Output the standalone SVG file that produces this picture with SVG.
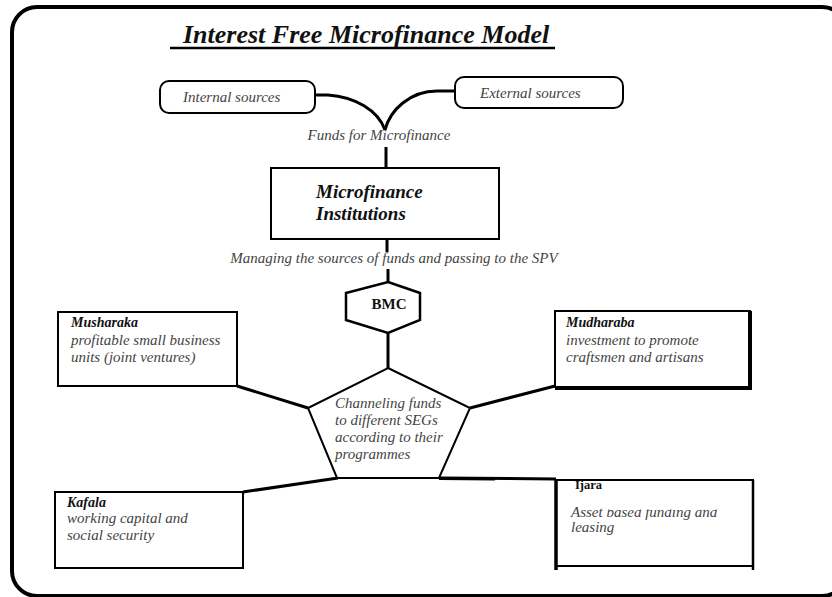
<svg xmlns="http://www.w3.org/2000/svg" width="832" height="597" viewBox="0 0 832 597">
<style>
.box{fill:#fff;stroke:#000;stroke-width:2}
.conn{fill:none;stroke:#000;stroke-width:3}
.it{font-family:"Liberation Serif","Times New Roman",serif;font-style:italic;font-size:15px;fill:#444}
.bi{font-family:"Liberation Serif","Times New Roman",serif;font-style:italic;font-weight:bold;fill:#111}
.b{font-family:"Liberation Serif","Times New Roman",serif;font-weight:bold;fill:#111}
</style>
<defs>
<clipPath id="ijclip">
<rect x="560" y="495" width="44" height="30"/>
<rect x="604" y="509.5" width="140" height="16"/>
</clipPath>
</defs>
<rect x="0" y="0" width="832" height="597" fill="#fff"/>
<rect x="12" y="7" width="835" height="589" rx="25" fill="none" stroke="#000" stroke-width="4"/>
<g id="title">
<text x="183" y="43" class="bi" font-size="26">Interest Free Microfinance Model</text>
<line x1="170" y1="48" x2="555" y2="48" stroke="#000" stroke-width="2.5"/>
</g>
<g id="connectors">
<path class="conn" stroke-width="2" d="M315,95 L328,95 C355,97 378,110 385,130"/>
<path class="conn" stroke-width="2" d="M455,91 L437,91 C410,91 390,110 385,130"/>
<path class="conn" d="M386,147 L386,168"/>
<path class="conn" d="M387,239 L387,252"/>
<path class="conn" d="M388,269 L388,282"/>
<path class="conn" d="M388,333 L388,368"/>
<path class="conn" stroke-width="4" d="M237,386 L308,408"/>
<path class="conn" stroke-width="4" d="M555,386 L470,408"/>
<path class="conn" stroke-width="4" d="M243,492 L338,478"/>
<path class="conn" stroke-width="2" d="M439,478 L556,479"/>
<path class="conn" stroke-width="3.5" d="M439,478.5 L495,479"/>
</g>
<g id="internal">
<rect class="box" x="160" y="81" width="155" height="32" rx="9"/>
<text class="it" x="183" y="102">Internal sources</text>
</g>
<g id="external">
<rect class="box" x="455" y="77" width="168" height="31" rx="9"/>
<text class="it" x="480" y="98">External sources</text>
</g>
<g id="funds-label">
<text class="it" x="379" y="140" text-anchor="middle" font-size="15.5">Funds for Microfinance</text>
</g>
<g id="mfi">
<rect class="box" x="271" y="168" width="228" height="71"/>
<text class="bi" x="316" y="198" font-size="19">Microfinance</text>
<text class="bi" x="316" y="220" font-size="19">Institutions</text>
</g>
<g id="managing-label">
<text class="it" x="394" y="263" text-anchor="middle">Managing the sources of funds and passing to the SPV</text>
</g>
<g id="bmc">
<polygon points="388,282 420,293 420,320 388,333 346,320 346,293" fill="#fff" stroke="#000" stroke-width="2.5"/>
<text class="b" x="389" y="309" text-anchor="middle" font-size="15">BMC</text>
</g>
<g id="center">
<polygon points="388,368 470,408 439,478 337,478 308,408" fill="#fff" stroke="#000" stroke-width="2"/>
<text class="it" x="335" y="408" font-size="15.5">Channeling funds</text>
<text class="it" x="335" y="425" font-size="15.5">to different SEGs</text>
<text class="it" x="335" y="442" font-size="15.5">according to their</text>
<text class="it" x="335" y="459" font-size="15.5">programmes</text>
</g>
<g id="musharaka">
<rect class="box" x="58" y="312" width="179" height="74"/>
<text class="bi" x="71" y="327" font-size="14">Musharaka</text>
<text class="it" x="71" y="345">profitable small business</text>
<text class="it" x="71" y="362">units (joint ventures)</text>
</g>
<g id="mudharaba">
<rect class="box" x="555" y="311" width="195" height="76"/>
<line x1="750" y1="311" x2="750" y2="390" stroke="#000" stroke-width="4"/>
<line x1="555" y1="388" x2="752" y2="388" stroke="#000" stroke-width="4"/>
<text class="bi" x="566" y="327" font-size="14">Mudharaba</text>
<text class="it" x="566" y="345">investment to promote</text>
<text class="it" x="566" y="362">craftsmen and artisans</text>
</g>
<g id="kafala">
<rect class="box" x="55" y="492" width="188" height="76"/>
<text class="bi" x="67" y="507" font-size="14">Kafala</text>
<text class="it" x="67" y="523">working  capital and</text>
<text class="it" x="67" y="540">social security</text>
</g>
<g id="ijara">
<rect class="box" x="556" y="480" width="197" height="86"/>
<line x1="556" y1="479" x2="556" y2="570" stroke="#000" stroke-width="3.5"/>
<line x1="753" y1="480" x2="753" y2="570" stroke="#000" stroke-width="2.5"/>
<text class="b" x="575" y="489" font-size="12.5">Ijara</text>
<text class="it" x="571" y="517" font-size="15.5" clip-path="url(#ijclip)">Asset based funding and</text>
<text class="it" x="571" y="532" font-size="15.5">leasing</text>
</g>
</svg>
